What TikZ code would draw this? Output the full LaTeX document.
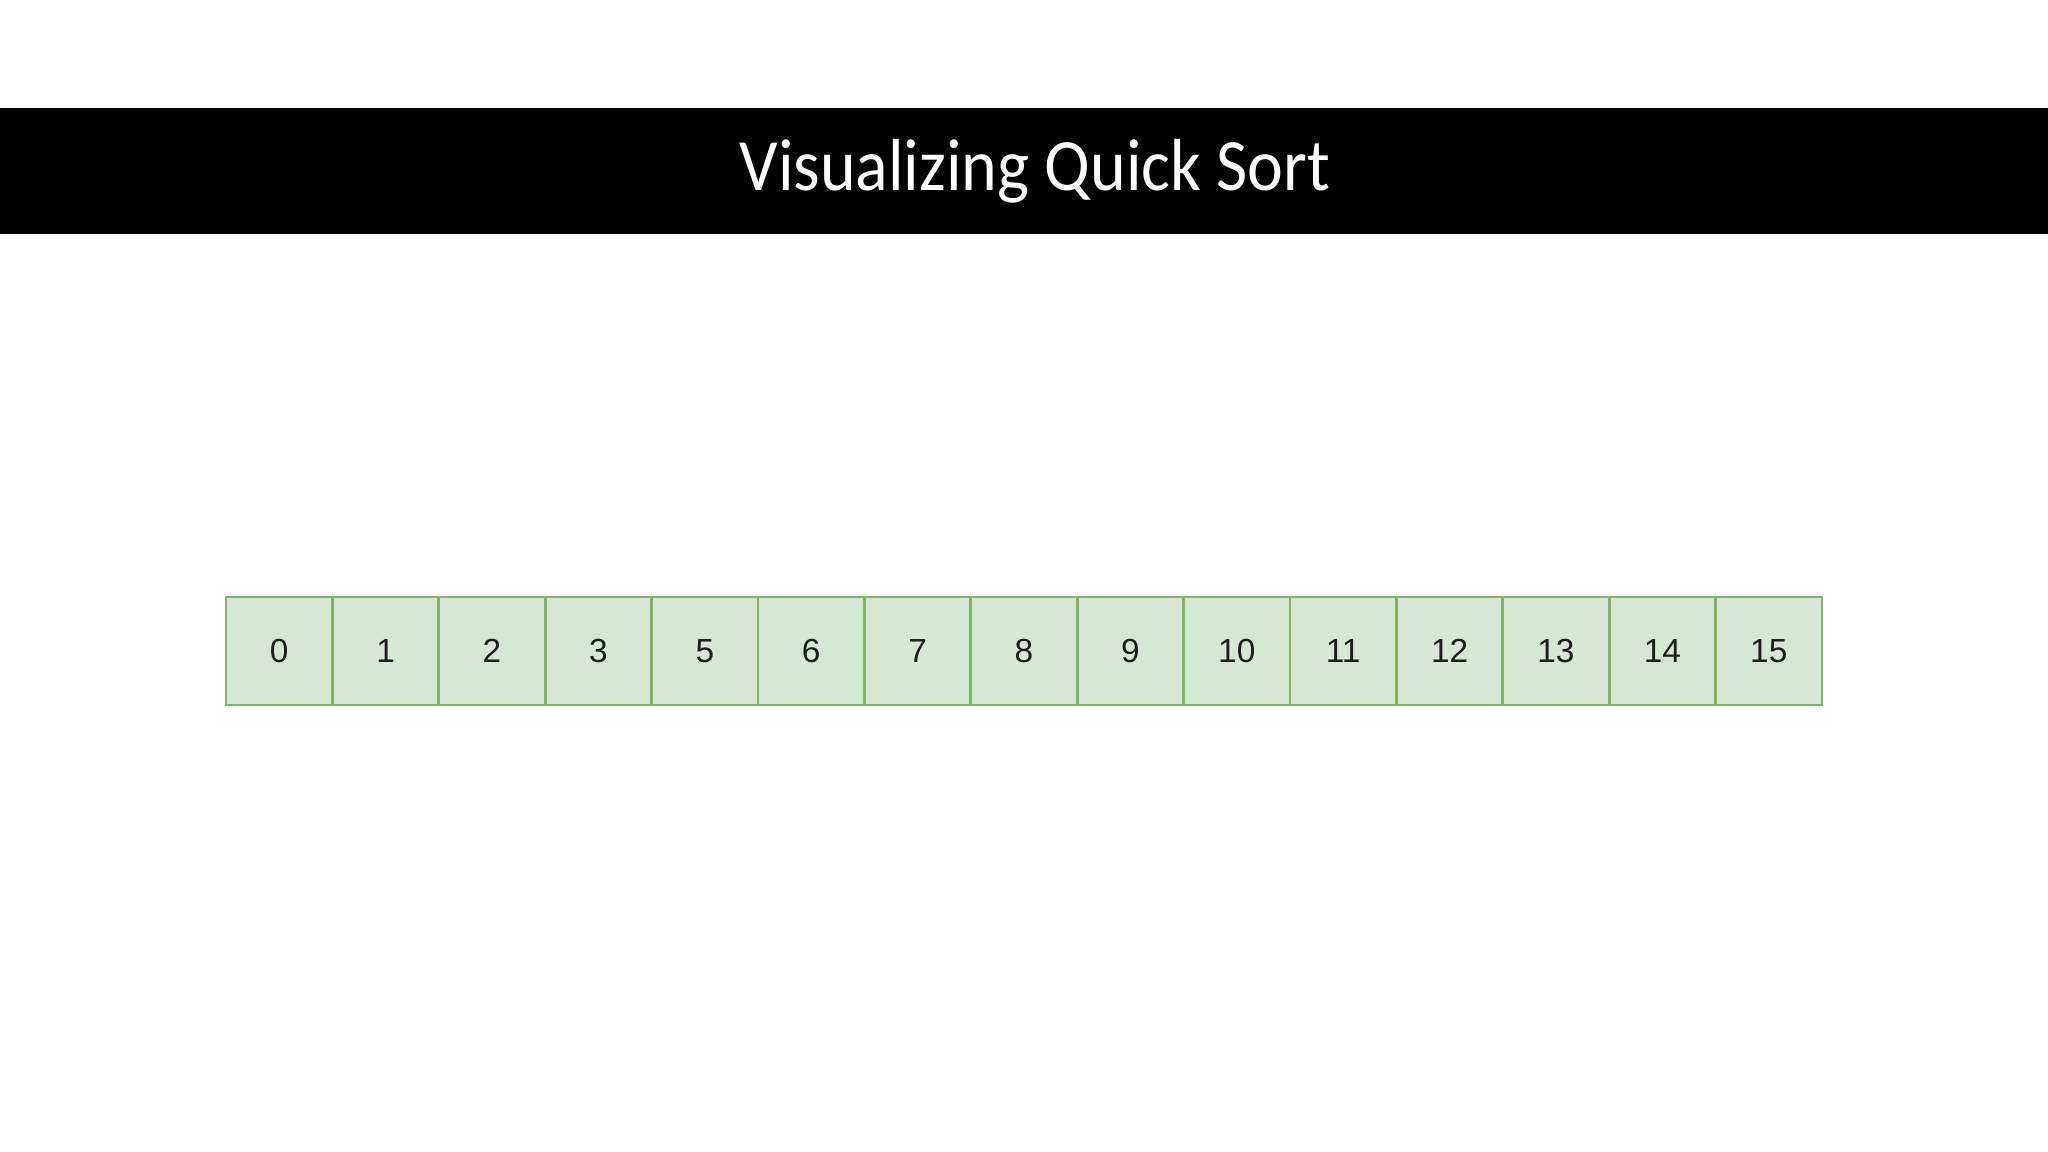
\documentclass[tikz,border=0pt]{standalone}
\usepackage{fontspec}
\setmainfont{Liberation Sans}
\newfontfamily\titlefont[FakeStretch=0.92]{Carlito}
\usepackage{tikz}
\definecolor{cellgreen}{RGB}{213, 232, 212}
\definecolor{cellborder}{RGB}{130, 179, 102}
\definecolor{digitgray}{RGB}{30, 30, 30}

\begin{document}
\begin{tikzpicture}
            \pgfmathsetmacro{\cellW}{1.064}
            \pgfmathsetmacro{\firstX}{2.26}
            \pgfmathsetmacro{\rowY}{5.01}

            \useasboundingbox (0, 0) rectangle (20.48, 11.52);

            % black bar with the title
            \fill[black] (0, 9.18) rectangle (20.48, 10.44);
            \node[text=white, font=\titlefont\fontsize{21}{25}\selectfont] (title) at (10.35, 9.81) {Visualizing Quick Sort};

            % one cell per value of the array
            \foreach \v [count=\i from 0] in {0, 1, 2, 3, 5, 6, 7, 8, 9, 10, 11, 12, 13, 14, 15}
            \node[draw=cellborder, line width=0.8pt, fill=cellgreen, text=digitgray, inner sep=0pt,
                  minimum width=\cellW cm, minimum height=1.08cm, font=\fontsize{9.5}{11}\selectfont]
                  (c\i) at ({\firstX + \cellW*(\i + 0.5)}, \rowY) {\v};

        \end{tikzpicture}
\end{document}
